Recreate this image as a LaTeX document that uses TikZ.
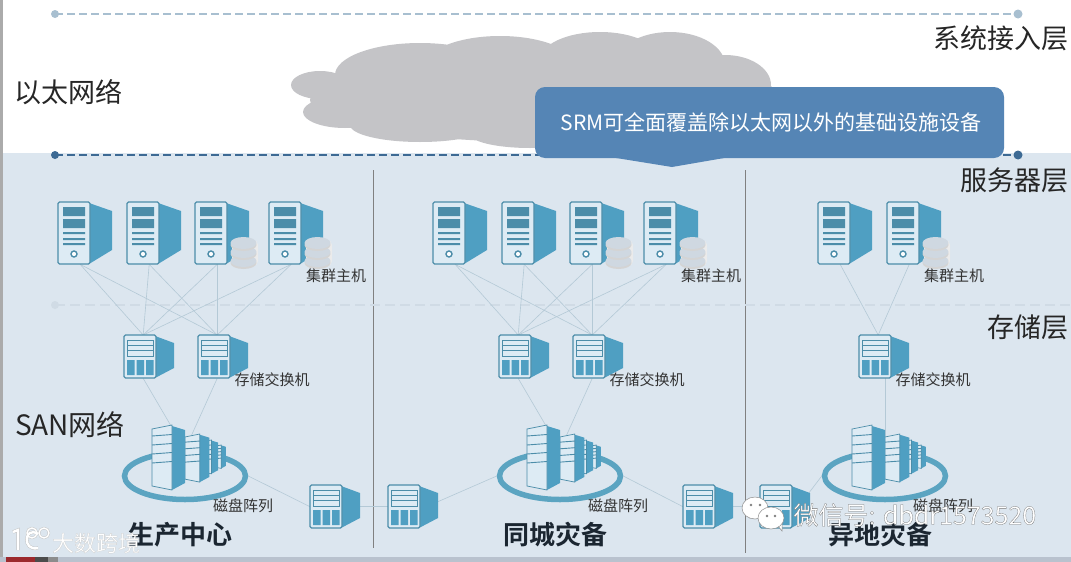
\documentclass[tikz,border=0pt]{standalone}
\usepackage{fontspec}
\setmainfont{Noto Sans CJK SC}[BoldFont={Noto Sans CJK SC Bold}]
\usepackage{xcolor}
\usepackage{tikz}
\usetikzlibrary{positioning,calc,shapes.geometric}
\definecolor{mPanel}{HTML}{DCE6EF}
\definecolor{mIcon}{HTML}{4F9FC2}
\definecolor{mEdge}{HTML}{4C8DA9}
\definecolor{mFace}{HTML}{DDEBF4}
\definecolor{mRing}{HTML}{5BA4C1}
\definecolor{mWire}{HTML}{B4C9D6}
\definecolor{mCloud}{HTML}{C4C4C7}
\definecolor{mNote}{HTML}{5585B5}
\definecolor{mInk}{HTML}{1B2631}
\definecolor{mDash}{HTML}{3D6A94}
\definecolor{mDashTop}{HTML}{A8BFD0}
\definecolor{mDashLow}{HTML}{D0DBE5}
\definecolor{mFoot}{HTML}{B9C2CE}
\definecolor{mFootRed}{HTML}{9C2A2E}
\newcommand{\halotext}[2]{\textcolor{white}{\special{pdf:code #1 G 0.25 w 2 Tr}#2\special{pdf:code 0 Tr}}}
\tikzset{
  hostbox/.style={minimum width=44pt, minimum height=62pt, inner sep=0pt, anchor=north west},
  switchbox/.style={minimum width=38pt, minimum height=43pt, inner sep=0pt, anchor=north west},
  arraybox/.style={ellipse, minimum width=121pt, minimum height=47pt, inner sep=0pt, draw=mRing, line width=5.5pt},
  wire/.style={mWire, line width=0.6pt},
  tag/.style={font=\fontsize{15}{15}\selectfont, text=black!80},
  layer/.style={font=\fontsize{27}{27}\selectfont, text=black!85},
  sitename/.style={font=\fontsize{26}{26}\selectfont\bfseries, text=mInk},
  host/.pic={
    \fill[mIcon] (31,1) -- (54,9) -- (54,48) -- (31,62) -- cycle;
    \draw[mEdge, fill=mFace, line width=1.2pt, rounded corners=1.5pt] (0,0) rectangle (32,62);
    \fill[mEdge] (5,5) rectangle (27,14) (5,17) rectangle (27,26);
    \fill[mEdge] (5,30) rectangle (27,32) (5,36) rectangle (27,38) (5,41) rectangle (27,43);
    \draw[mEdge, line width=1.4pt, fill=white] (16,52) circle (3);
  },
  disks/.pic={
    \fill[black!8, rounded corners=5pt] (1,4) rectangle (27,30);
    \foreach \dy in {20,11,2}{
      \fill[black!17] (12.5,\dy+7) ellipse (13 and 6);
      \fill[black!6!mPanel] (12.5,\dy+5) ellipse (13 and 6);
    }
  },
  switch/.pic={
    \fill[mIcon] (31,1) -- (50,8) -- (50,33) -- (31,43) -- cycle;
    \draw[mEdge, fill=mFace, line width=1.2pt, rounded corners=1.5pt] (0,0) rectangle (32,43);
    \draw[mEdge, line width=0.8pt] (3,5) rectangle (29,21) (3,10) -- (29,10) (3,15.5) -- (29,15.5);
    \fill[mIcon] (3,25) rectangle (10.5,40) (12.5,25) rectangle (20,40) (22,25) rectangle (29.5,40);
  },
  tower/.pic={
    \fill[mIcon] (20,1) -- (33,5) -- (33,58) -- (20,65) -- cycle;
    \draw[mEdge, fill=mFace, line width=0.7pt] (0,4) -- (20,0) -- (20,65) -- (0,61) -- cycle;
    \foreach \ty in {11,20,29,38}{\draw[mEdge, line width=0.9pt] (0,\ty) -- (20,\ty-1.5);}
  },
  bank/.pic={
    \pic[scale=0.36] at (62,20) {tower};
    \pic[scale=0.52] at (49,15) {tower};
    \pic[scale=0.74] at (33,9) {tower};
    \pic at (0,0) {tower};
  }
}
\begin{document}
\begin{tikzpicture}[x=1pt, y=-1pt]
\useasboundingbox (0,0) rectangle (1071,562);
% background
\fill[white] (0,0) rectangle (1071,562);
\fill[mPanel] (0,153) rectangle (1071,557);
\fill[black!33] (0,0) rectangle (3,557);
\fill[mFoot] (0,557) rectangle (1071,562);
\fill[mFootRed] (6,557) rectangle (35,562);
\fill[black!70] (35,557) rectangle (48,562);
\fill[black!45] (48,557) rectangle (58,562);
% cloud
\fill[mCloud] (320,85) ellipse (29 and 14) (345,112) ellipse (42 and 16)
  (420,75) ellipse (85 and 32) (500,66) ellipse (75 and 30) (600,60) ellipse (60 and 28)
  (670,65) ellipse (55 and 33) (725,85) ellipse (46 and 30) (740,105) ellipse (40 and 30)
  (540,100) ellipse (230 and 42) (420,125) ellipse (70 and 17) (530,134) ellipse (60 and 14);
% layers
\draw[mDashTop, line width=1.1pt, dash pattern=on 8pt off 4pt] (55,14) -- (1018,14);
\fill[mDashTop] (55,14) circle (4) (1018,14) circle (4.5);
\draw[mDash, line width=1.3pt, dash pattern=on 8pt off 4pt] (55,155) -- (1018,155);
\fill[mDash] (55,155) circle (4) (1018,155) circle (4.5);
\draw[black!50, line width=0.7pt] (373,170) -- (373,548);
\draw[black!50, line width=0.7pt] (745,170) -- (745,553);
\draw[mDashLow, line width=1.3pt, dash pattern=on 10pt off 5pt] (55,305) -- (1071,305);
\fill[mDashLow] (55,305) circle (4);
% nodes
\foreach \nm/\px in {hostA/58,hostB/127,hostC/195,hostD/269,hostE/433,hostF/502,hostG/570,hostH/644,hostI/818,hostJ/887}
  \node[hostbox] (\nm) at (\px,202) {};
\foreach \nm/\px in {sanA/124,sanB/198,sanC/499,sanD/573,sanE/859}
  \node[switchbox] (\nm) at (\px,335) {};
\foreach \nm/\px in {linkA/310,linkB/388,linkC/683,linkD/760}
  \node[switchbox] (\nm) at (\px,485) {};
% wires
\foreach \hs in {hostA,hostB,hostC,hostD}
  \foreach \sw in {sanA,sanB}
    \draw[wire] (\hs.south) -- (\sw.north);
\foreach \hs in {hostE,hostF,hostG,hostH}
  \foreach \sw in {sanC,sanD}
    \draw[wire] (\hs.south) -- (\sw.north);
\draw[wire] (hostI.south) -- (sanE.north);
\draw[wire] (hostJ.south) -- (sanE.north);
% disk arrays
\node[arraybox] (arrayA) at (185,476) {};
\node[arraybox] (arrayB) at (560,476) {};
\node[arraybox] (arrayC) at (885,476) {};
\draw[wire] (sanA.south) -- (arrayA.north);
\draw[wire] (sanB.south) -- (arrayA.north);
\draw[wire] (sanC.south) -- (arrayB.north);
\draw[wire] (sanD.south) -- (arrayB.north);
\draw[wire] (arrayC.north |- sanE.south) -- (arrayC.north);
\draw[wire] (arrayA.east) -- (linkA.west);
\draw[wire] (linkA.east) -- (linkB.west);
\draw[wire] (linkB.east) -- (arrayB.west);
\draw[wire] (arrayB.east) -- (linkC.west);
\draw[wire] (linkC.east) -- (linkD.west);
\draw[wire] (linkD.east) -- (arrayC.west);
% icons
\foreach \nm in {hostA,hostB,hostC,hostD,hostE,hostF,hostG,hostH,hostI,hostJ}
  \pic at (\nm.north west) {host};
\foreach \nm in {hostC,hostD,hostG,hostH,hostJ}
  \pic at ($(\nm.north west)+(36,34)$) {disks};
\foreach \nm in {sanA,sanB,sanC,sanD,sanE,linkA,linkB,linkC,linkD}
  \pic at (\nm.north west) {switch};
\foreach \nm in {arrayA,arrayB,arrayC}
  \pic at ($(\nm.center)+(-33,-51)$) {bank};
% note
\fill[mNote, rounded corners=10pt] (535,87) rectangle (1004,158);
\fill[mNote] (610,157) -- (730,157) -- (672,167) -- cycle;
\node[text=white, font=\fontsize{21}{21}\selectfont] (noteText) at (771,122) {SRM可全面覆盖除以太网以外的基础设施设备};
% labels
\node[layer] (ethLabel) at (68,92) {以太网络};
\node[layer, font=\fontsize{28}{28}\selectfont] (sanLabel) at (70,425) {SAN网络};
\node[layer] (accessLayer) at (1001,38) {系统接入层};
\node[layer] (serverLayer) at (1014,180) {服务器层};
\node[layer] (storeLayer) at (1028,327) {存储层};
\foreach \nm/\px in {hostTagA/336,hostTagB/711,hostTagC/954}
  \node[tag] (\nm) at (\px,276) {集群主机};
\foreach \nm/\px in {sanTagA/272,sanTagB/647,sanTagC/933}
  \node[tag] (\nm) at (\px,380) {存储交换机};
\foreach \nm/\px in {arrayTagA/243,arrayTagB/618,arrayTagC/943}
  \node[tag] (\nm) at (\px,506) {磁盘阵列};
\node[sitename] (siteA) at (180,535) {生产中心};
\node[sitename] (siteB) at (555,535) {同城灾备};
\node[sitename] (siteC) at (880,535) {异地灾备};
% watermarks
\draw[black!25, line width=3.2pt] (13,532) -- (18,530) -- (18,550);
\draw[black!25, line width=3.2pt] (38,534) .. controls (24,525) and (22,552) .. (38,548);
\draw[black!25, line width=2.2pt] (32,533) circle (5) (44,533) circle (5);
\draw[white, line width=2.4pt] (13,532) -- (18,530) -- (18,550);
\draw[white, line width=2.4pt] (38,534) .. controls (24,525) and (22,552) .. (38,548);
\draw[white, line width=1.4pt] (32,533) circle (5) (44,533) circle (5);
\node[font=\fontsize{22}{22}\selectfont] (markA) at (96,543) {\halotext{0.8}{大数跨境}};
\fill[white, draw=black!45, line width=0.5pt] (745,512) -- (750,518) -- (753,509) -- cycle;
\fill[white, draw=black!45, line width=0.5pt] (755,508) ellipse (13 and 11);
\fill[black!50] (751,505) circle (1.3) (760,505) circle (1.3);
\fill[white, draw=black!45, line width=0.5pt] (778,526) -- (782,531) -- (782,522) -- cycle;
\fill[white, draw=black!45, line width=0.5pt] (771,518) ellipse (13 and 11);
\fill[black!50] (767,516) circle (1.3) (775,516) circle (1.3);
\node[font=\fontsize{25}{25}\selectfont, anchor=west] (markB) at (790,515) {\halotext{0.45}{微信号: dbdr1573520}};
\end{tikzpicture}
\end{document}
